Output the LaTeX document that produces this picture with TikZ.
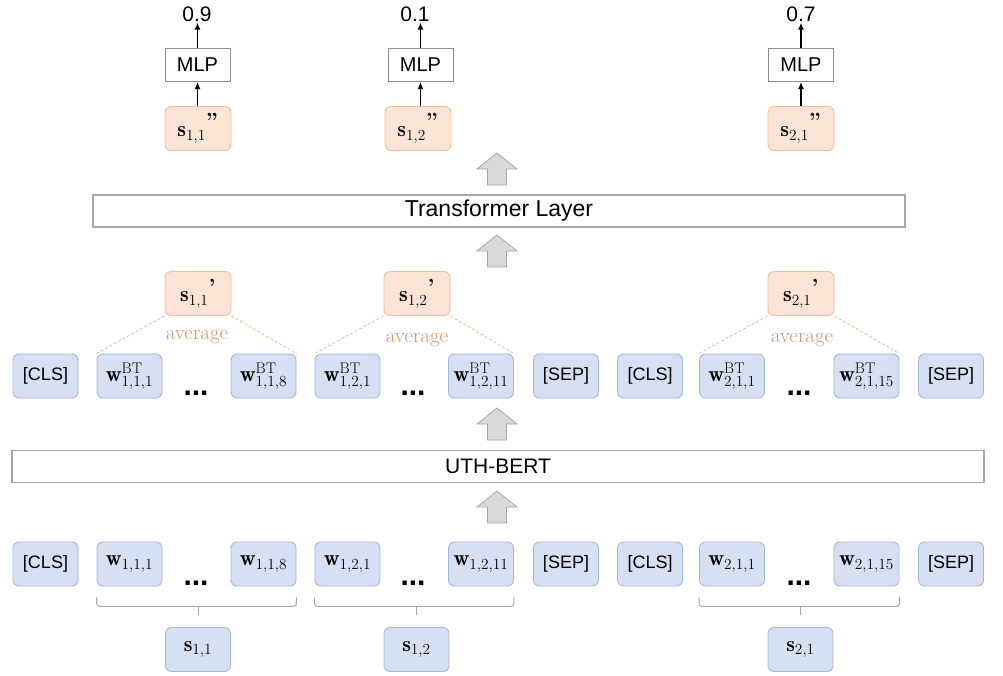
\RequirePackage{fix-cm}
\documentclass[tikz,border=0pt]{standalone}
\usepackage{fontspec}
\setsansfont{Liberation Sans}
\usetikzlibrary{arrows.meta}
\definecolor{blueF}{HTML}{D6E0F2}
\definecolor{blueD}{HTML}{A2B7E0}
\definecolor{orF}{HTML}{FBE4D5}
\definecolor{orD}{HTML}{F2BE96}
\definecolor{avgC}{HTML}{C8956C}
\definecolor{dashC}{HTML}{F0B888}
\definecolor{grayF}{HTML}{D9D9D9}
\definecolor{grayD}{HTML}{A6A6A6}
\definecolor{boxD}{HTML}{8C8C8C}
\tikzset{
  tok/.style={rounded corners=6pt, fill=blueF, draw=blueD, line width=0.9pt,
    minimum width=65pt, minimum height=44pt, inner sep=0pt,
    font=\fontsize{22}{26}\selectfont},
  tokt/.style={tok, font=\sffamily\fontsize{18}{20}\selectfont},
  obox/.style={rounded corners=6pt, fill=orF, draw=orD, line width=0.9pt,
    minimum width=66pt, minimum height=44pt, inner sep=0pt,
    font=\fontsize{22}{26}\selectfont},
  mlpbox/.style={draw=boxD, line width=1pt, minimum width=65pt, minimum height=33pt,
    inner sep=0pt, font=\sffamily\fontsize{20}{22}\selectfont},
  widebox/.style={draw=grayD, line width=1.5pt, inner sep=0pt},
  val/.style={inner sep=1pt, font=\sffamily\fontsize{21}{22}\selectfont},
  dotsn/.style={inner sep=0pt, font=\sffamily\bfseries\fontsize{30}{30}\selectfont},
  avg/.style={inner sep=0pt, text=avgC, font=\fontsize{21}{22}\selectfont},
  darr/.style={-{Latex[length=7pt,width=6pt]}, line width=1.2pt},
  dline/.style={dashed, dash pattern=on 3pt off 2pt, draw=dashC, line width=0.8pt},
  brace/.style={draw=grayD, line width=1pt, rounded corners=3pt},
  garrow/.style={fill=grayF, draw=grayD, line width=0.8pt}
}
\newcommand{\gblock}[2]{% x, tip y
  \draw[garrow] (#1,#2) -- (#1+20,#2+16) -- (#1+9.5,#2+16) -- (#1+9.5,#2+32)
    -- (#1-9.5,#2+32) -- (#1-9.5,#2+16) -- (#1-20,#2+16) -- cycle;}
\begin{document}
\begin{tikzpicture}[x=1pt,y=-1pt]
\useasboundingbox (0,0) rectangle (1003,675);
% ---------- top outputs ----------
\node[val] (v1) at (197,14) {0.9};
\node[val] (v2) at (415,14) {0.1};
\node[val] (v3) at (801,14) {0.7};
\node[mlpbox] (m1) at (197.5,65) {MLP};
\node[mlpbox] (m2) at (420.5,65) {MLP};
\node[mlpbox] (m3) at (801,65) {MLP};
\node[obox] (t1) at (198,128.5) {$\mathbf{s}_{1,1}{}^{\textbf{''}}$};
\node[obox] (t2) at (418,128.5) {$\mathbf{s}_{1,2}{}^{\textbf{''}}$};
\node[obox] (t3) at (801,128.5) {$\mathbf{s}_{2,1}{}^{\textbf{''}}$};
\foreach \i in {1,2,3}{
  \draw[darr] (m\i.south |- t\i.north) -- (m\i.south);
  \draw[darr] (m\i.north) -- (m\i.north |- v\i.south);
}
% ---------- transformer ----------
\gblock{497}{153}
\node[widebox, minimum width=812pt, minimum height=32pt,
  font=\sffamily\fontsize{23}{26}\selectfont] (tl) at (499,211) {Transformer Layer};
\gblock{497}{235}
% ---------- s' ----------
\node[obox] (p1) at (198,293.5) {$\mathbf{s}_{1,1}{}^{\textbf{'}}$};
\node[obox] (p2) at (417,293.5) {$\mathbf{s}_{1,2}{}^{\textbf{'}}$};
\node[obox] (p3) at (801,293.5) {$\mathbf{s}_{2,1}{}^{\textbf{'}}$};
\node[avg] (a1) at (197,337) {average};
\node[avg] (a2) at (417,340) {average};
\node[avg] (a3) at (802,340) {average};
% ---------- BERT outputs ----------
\node[tokt] (c1) at (45.5,376) {[CLS]};
\node[tok] (b111) at (129.5,376) {$\mathbf{w}^{\mathrm{BT}}_{1,1,1}$};
\node[dotsn] (d1) at (196,393) {...};
\node[tok] (b118) at (263.5,376) {$\mathbf{w}^{\mathrm{BT}}_{1,1,8}$};
\node[tok] (b121) at (347.5,376) {$\mathbf{w}^{\mathrm{BT}}_{1,2,1}$};
\node[dotsn] (d2) at (413,393) {...};
\node[tok] (b1211) at (481,376) {$\mathbf{w}^{\mathrm{BT}}_{1,2,11}$};
\node[tokt] (e1) at (566,376) {[SEP]};
\node[tokt] (c2) at (650,376) {[CLS]};
\node[tok] (b211) at (732,376) {$\mathbf{w}^{\mathrm{BT}}_{2,1,1}$};
\node[dotsn] (d3) at (799,393) {...};
\node[tok] (b2115) at (866.5,376) {$\mathbf{w}^{\mathrm{BT}}_{2,1,15}$};
\node[tokt] (e2) at (951,376) {[SEP]};
\draw[dline] (p1.south west) -- (b111.north west);
\draw[dline] (p1.south east) -- (b118.north east);
\draw[dline] (p2.south west) -- (b121.north west);
\draw[dline] (p2.south east) -- (b1211.north east);
\draw[dline] (p3.south west) -- (b211.north west);
\draw[dline] (p3.south east) -- (b2115.north east);
% ---------- UTH-BERT ----------
\gblock{497}{408}
\node[widebox, minimum width=972pt, minimum height=32pt,
  font=\sffamily\fontsize{21}{24}\selectfont] (ub) at (498,466.5) {UTH-BERT};
\gblock{497}{491}
% ---------- inputs ----------
\node[tokt] (ic1) at (45.5,564) {[CLS]};
\node[tok] (w111) at (129.5,564) {$\mathbf{w}_{1,1,1}$};
\node[dotsn] (id1) at (196,583) {...};
\node[tok] (w118) at (263.5,564) {$\mathbf{w}_{1,1,8}$};
\node[tok] (w121) at (347.5,564) {$\mathbf{w}_{1,2,1}$};
\node[dotsn] (id2) at (413,583) {...};
\node[tok] (w1211) at (481,564) {$\mathbf{w}_{1,2,11}$};
\node[tokt] (ie1) at (566,564) {[SEP]};
\node[tokt] (ic2) at (650,564) {[CLS]};
\node[tok] (w211) at (732,564) {$\mathbf{w}_{2,1,1}$};
\node[dotsn] (id3) at (799,583) {...};
\node[tok] (w2115) at (866.5,564) {$\mathbf{w}_{2,1,15}$};
\node[tokt] (ie2) at (951,564) {[SEP]};
% braces
\draw[brace] (w111.south west) ++(0,11) -- ++(0,9) -| ([yshift=-11pt]w118.south east);
\draw[brace] (w121.south west) ++(0,11) -- ++(0,9) -| ([yshift=-11pt]w1211.south east);
\draw[brace] (w211.south west) ++(0,11) -- ++(0,9) -| ([yshift=-11pt]w2115.south east);
\node[tok] (s1) at (198,649.5) {$\mathbf{s}_{1,1}$};
\node[tok] (s2) at (416.5,649.5) {$\mathbf{s}_{1,2}$};
\node[tok] (s3) at (800.5,649.5) {$\mathbf{s}_{2,1}$};
\coordinate (k1) at (198,606);
\coordinate (k2) at (416.5,606);
\coordinate (k3) at (800.5,606);
\foreach \i in {1,2,3}{ \draw[draw=grayD, line width=1pt] (k\i) -- ++(0,9); }
\end{tikzpicture}
\end{document}
